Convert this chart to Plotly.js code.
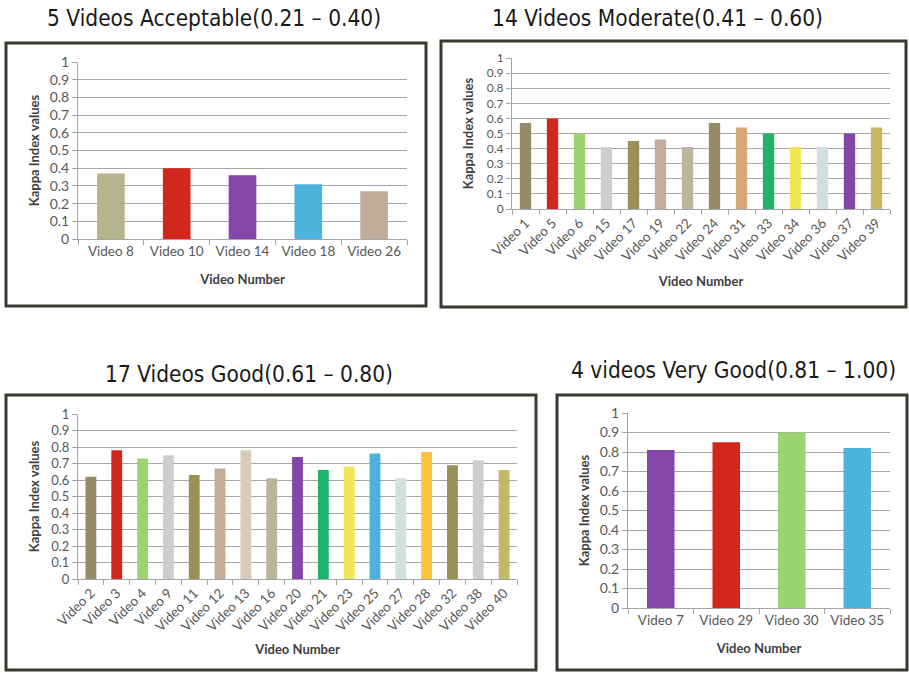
<!DOCTYPE html>
<html>
<head>
<meta charset="utf-8">
<script src="https://cdn.plot.ly/plotly-3.0.1.min.js"></script>
<style>
  html, body { margin: 0; padding: 0; background: #ffffff; }
  #chart { width: 909px; height: 676px; }
</style>
</head>
<body>
<div id="chart"></div>
<script>
// ---- Data ----
const titleAcceptable = "5 Videos Acceptable(0.21 – 0.40)";
const titleModerate = "14 Videos Moderate(0.41 – 0.60)";
const titleGood = "17 Videos Good(0.61 – 0.80)";
const titleVeryGood = "4 videos Very Good(0.81 – 1.00)";

const acceptableVideos = ["Video 8", "Video 10", "Video 14", "Video 18", "Video 26"];
const acceptableKappa = [0.37, 0.40, 0.36, 0.31, 0.27];

const moderateVideos = ["Video 1", "Video 5", "Video 6", "Video 15", "Video 17", "Video 19", "Video 22",
  "Video 24", "Video 31", "Video 33", "Video 34", "Video 36", "Video 37", "Video 39"];
const moderateKappa = [0.57, 0.60, 0.50, 0.41, 0.45, 0.46, 0.41, 0.57, 0.54, 0.50, 0.41, 0.41, 0.50, 0.54];

const goodVideos = ["Video 2", "Video 3", "Video 4", "Video 9", "Video 11", "Video 12", "Video 13",
  "Video 16", "Video 20", "Video 21", "Video 23", "Video 25", "Video 27", "Video 28", "Video 32",
  "Video 38", "Video 40"];
const goodKappa = [0.62, 0.78, 0.73, 0.75, 0.63, 0.67, 0.78, 0.61, 0.74, 0.66, 0.68, 0.76, 0.61,
  0.77, 0.69, 0.72, 0.66];

const veryGoodVideos = ["Video 7", "Video 29", "Video 30", "Video 35"];
const veryGoodKappa = [0.81, 0.85, 0.90, 0.82];

const yTickValues = [0, 0.1, 0.2, 0.3, 0.4, 0.5, 0.6, 0.7, 0.8, 0.9, 1];
const yTickLabels = ["0", "0.1", "0.2", "0.3", "0.4", "0.5", "0.6", "0.7", "0.8", "0.9", "1"];
const xAxisTitle = "Video Number";
const yAxisTitle = "Kappa Index values";

// ---- Styles ----
const RED = "#d3271d", PURPLE = "#8446a9", CYAN = "#4cb4dc", LGREEN = "#9bd470",
      GREEN = "#1eb46b", YELLOW = "#f0e555", ORANGE = "#fbc43f";
const acceptableColors = ["#b7b38c", RED, PURPLE, CYAN, "#bfad9a"];
const moderateColors = ["#958b68", RED, LGREEN, "#cbd0ce", "#9a9156", "#c3ad98", "#bfb39b",
  "#958c67", "#d6a876", GREEN, YELLOW, "#cfe0e1", PURPLE, "#c5b862"];
const goodColors = ["#958b68", RED, LGREEN, "#cbd0ce", "#9a9156", "#c3ad98", "#d8cdbd",
  "#bfb39b", PURPLE, GREEN, YELLOW, CYAN, "#cfe0e1", ORANGE, "#9a9156", "#cbd0ce", "#c5b862"];
const veryGoodColors = [PURPLE, RED, LGREEN, CYAN];

const W = 909, H = 676;
const fx = (a, b) => [a / W, b / W];
const fy = (top, bottom) => [1 - bottom / H, 1 - top / H];

const FONT = "Lato, 'Open Sans', sans-serif";
const TITLE_FONT = "'DejaVu Sans Condensed', 'Liberation Sans Narrow', Lato, sans-serif";
const GRID = "#a6a6a6";

function xAxis(domain, anchor, angle, standoff) {
  return {
    domain: domain, anchor: anchor, type: "category",
    showline: true, linecolor: GRID, linewidth: 1,
    ticks: "outside", tickson: "boundaries", ticklen: 5, tickcolor: GRID,
    showgrid: false, tickangle: angle,
    tickfont: { family: FONT, size: 13.5, color: "#595959" },
    title: { text: xAxisTitle, standoff: standoff,
             font: { family: FONT, size: 13, color: "#404040", weight: "bold" } },
    automargin: false, fixedrange: true
  };
}
function yAxis(domain, anchor, tickSize, standoff) {
  return {
    domain: domain, anchor: anchor, range: [0, 1],
    tickvals: yTickValues, ticktext: yTickLabels,
    showline: true, linecolor: GRID, linewidth: 1,
    ticks: "outside", ticklen: 5, tickcolor: GRID,
    showgrid: true, gridcolor: GRID, gridwidth: 1, zeroline: false,
    tickfont: { family: FONT, size: tickSize, color: "#595959" },
    title: { text: yAxisTitle, standoff: standoff,
             font: { family: FONT, size: 13, color: "#404040", weight: "bold" } },
    automargin: false, fixedrange: true
  };
}

const traces = [
  { type: "bar", x: acceptableVideos, y: acceptableKappa, marker: { color: acceptableColors },
    xaxis: "x", yaxis: "y", hoverinfo: "x+y" },
  { type: "bar", x: moderateVideos, y: moderateKappa, marker: { color: moderateColors },
    xaxis: "x2", yaxis: "y2", hoverinfo: "x+y" },
  { type: "bar", x: goodVideos, y: goodKappa, marker: { color: goodColors },
    xaxis: "x3", yaxis: "y3", hoverinfo: "x+y" },
  { type: "bar", x: veryGoodVideos, y: veryGoodKappa, marker: { color: veryGoodColors },
    xaxis: "x4", yaxis: "y4", hoverinfo: "x+y" }
];

const BOX = "#3b3830";
function box(x0, y0, x1, y1) {
  return { type: "rect", xref: "paper", yref: "paper",
           x0: x0 / W, x1: x1 / W, y0: 1 - y1 / H, y1: 1 - y0 / H,
           line: { color: BOX, width: 3 }, fillcolor: "rgba(0,0,0,0)", layer: "below" };
}
function heading(text, cx, cy) {
  return { text: text, xref: "paper", yref: "paper", x: cx / W, y: 1 - cy / H,
           xanchor: "center", yanchor: "middle", showarrow: false,
           font: { family: TITLE_FONT, size: 22.5, color: "#1a1a1a" } };
}

const layout = {
  width: W, height: H,
  margin: { l: 0, r: 0, t: 0, b: 0 },
  paper_bgcolor: "#ffffff", plot_bgcolor: "#ffffff",
  showlegend: false, bargap: 0.58,
  xaxis: xAxis(fx(78, 407), "y", 0, 16),
  yaxis: yAxis(fy(62, 239), "x", 14, 7),
  xaxis2: xAxis(fx(512, 890), "y2", -45, 13),
  yaxis2: yAxis(fy(58, 209), "x2", 12, 10),
  xaxis3: xAxis(fx(78, 517), "y3", -45, 11),
  yaxis3: yAxis(fy(414, 579), "x3", 13, 8),
  xaxis4: xAxis(fx(628, 890), "y4", 0, 16),
  yaxis4: yAxis(fy(413, 608), "x4", 14, 7),
  shapes: [box(6, 43, 426, 306), box(441, 41, 906, 307), box(6, 395, 536, 670), box(557, 395, 907, 670)],
  annotations: [heading(titleAcceptable, 214, 18), heading(titleModerate, 657, 18),
                heading(titleGood, 249, 374), heading(titleVeryGood, 733, 370)]
};

Plotly.newPlot("chart", traces, layout, { displayModeBar: false, staticPlot: true });
</script>
</body>
</html>
